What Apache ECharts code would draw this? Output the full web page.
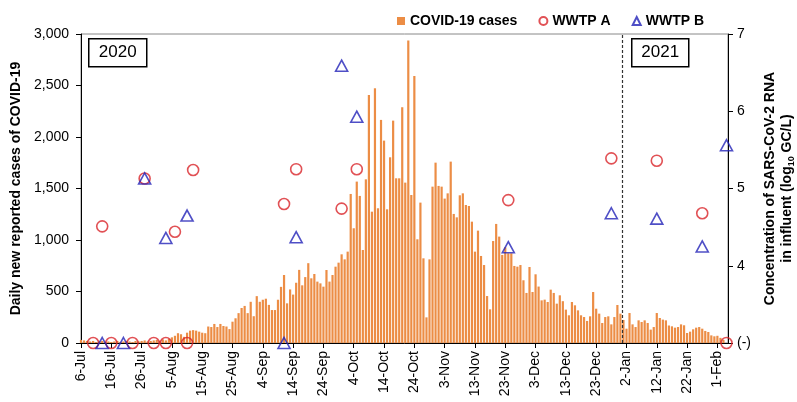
<!DOCTYPE html>
<html><head><meta charset="utf-8">
<script src="https://cdn.jsdelivr.net/npm/echarts@6/dist/echarts.min.js"></script>
<style>html,body{margin:0;padding:0;background:#fff}#c{width:797px;height:402px}</style>
</head><body><div id="c"></div>
<script>
// ---- data ----
const startDate = '2020-07-06';          // day 0 of the x axis
const dailyCases = [
  30, 25, 20, 15, 20, 10, 15, 20, 10, 15,
  10, 15, 20, 10, 15, 20, 15, 10, 20, 15,
  20, 25, 15, 20, 25, 30, 20, 35, 25, 40,
  55, 70, 95, 85, 60, 100, 120, 125, 120, 110,
  100, 95, 160, 155, 185, 155, 185, 165, 160, 135,
  207, 240, 290, 340, 360, 290, 400, 260, 455, 400,
  420, 430, 370, 320, 320, 420, 545, 660, 385, 520,
  470, 585, 710, 560, 640, 775, 628, 670, 596, 579,
  547, 709, 596, 660, 741, 780, 861, 812, 887, 1447,
  1114, 1567, 1428, 903, 1589, 2408, 1275, 2473, 1308, 2166,
  1965, 1298, 1803, 2159, 1599, 1599, 2289, 1557, 2936, 1437,
  2593, 1007, 1363, 822, 249, 812, 1518, 1751, 1525, 1518,
  1402, 1453, 1761, 1253, 1220, 1434, 1453, 1340, 1330, 1178,
  887, 1091, 845, 757, 456, 327, 990, 1156, 1033, 855,
  929, 871, 871, 748, 741, 757, 609, 486, 738, 495,
  667, 548, 414, 421, 398, 518, 486, 382, 463, 406,
  324, 269, 398, 366, 317, 269, 252, 214, 259, 495,
  333, 285, 194, 252, 259, 181, 252, 369, 285, 224,
  139, 291, 181, 155, 220, 204, 220, 194, 130, 155,
  291, 243, 227, 220, 170, 162, 149, 155, 181, 172,
  97, 110, 133, 149, 155, 139, 117, 107, 74, 65,
  70, 50, 30
];
const tickLabels = ['6-Jul','16-Jul','26-Jul','5-Aug','15-Aug','25-Aug','4-Sep','14-Sep','24-Sep','4-Oct','14-Oct','24-Oct','3-Nov','13-Nov','23-Nov','3-Dec','13-Dec','23-Dec','2-Jan','12-Jan','22-Jan','1-Feb'];
// null = not detected, plotted on the "(-)" level
const wwtpADates = ['2020-07-10','2020-07-13','2020-07-16','2020-07-23','2020-07-27','2020-07-30','2020-08-03','2020-08-06','2020-08-10','2020-08-12','2020-09-11','2020-09-15','2020-09-30','2020-10-05','2020-11-24','2020-12-28','2021-01-12','2021-01-27','2021-02-04'];
const wwtpAValues = [null, 4.51, null, null, 5.13, null, null, 4.44, null, 5.24, 4.80, 5.25, 4.74, 5.25, 4.85, 5.39, 5.36, 4.68, null];
const wwtpBDates = ['2020-07-13','2020-07-20','2020-07-27','2020-08-03','2020-08-10','2020-09-11','2020-09-15','2020-09-30','2020-10-05','2020-11-24','2020-12-28','2021-01-12','2021-01-27','2021-02-04'];
const wwtpBValues = [null, null, 5.13, 4.36, 4.65, null, 4.37, 6.59, 5.93, 4.24, 4.68, 4.61, 4.25, 5.56];
const yearLabels = ['2020', '2021'];
const yearBoundaryDate = '2021-01-01';
const ndLevel = 3;

// ---- helpers ----
const DAY = 86400000;
const t0 = Date.parse(startDate + 'T00:00:00Z');
const dayIndex = s => Math.round((Date.parse(s + 'T00:00:00Z') - t0) / DAY);
const FONT = '"Liberation Sans", Arial, Helvetica, sans-serif';

const barData = dailyCases.map((v, i) => [i, v]);
const aData = wwtpADates.map((d, i) => [dayIndex(d), wwtpAValues[i] == null ? ndLevel : wwtpAValues[i]]);
const bData = wwtpBDates.map((d, i) => [dayIndex(d), wwtpBValues[i] == null ? ndLevel : wwtpBValues[i]]);
const boundary = dayIndex(yearBoundaryDate) - 0.5;

const chart = echarts.init(document.getElementById('c'), null, {renderer: 'canvas'});
chart.setOption({
  animation: false,
  backgroundColor: '#fff',
  textStyle: {fontFamily: FONT},
  grid: {left: 81, right: 69, top: 34, bottom: 59, show: true, borderColor: '#888', borderWidth: 1,
         containLabel: false, outerBoundsMode: 'none'},
  legend: {
    left: 392, top: 9, itemWidth: 8, itemHeight: 8, itemGap: 21,
    textStyle: {fontFamily: FONT, fontSize: 14, fontWeight: 'bold', color: '#000'},
    data: [{name: 'COVID-19 cases', icon: 'rect'}, {name: 'WWTP A'}, {name: 'WWTP B'}]
  },
  xAxis: {
    type: 'value', min: 0, max: 213.5, interval: 10,
    axisLine: {show: true, lineStyle: {color: '#000', width: 1}},
    axisTick: {show: true, length: 5, lineStyle: {color: '#000'}},
    splitLine: {show: false},
    axisLabel: {
      rotate: 90, margin: 8, fontSize: 14, color: '#000', fontFamily: FONT,
      showMaxLabel: false,
      formatter: v => (v % 10 === 0 && tickLabels[v / 10]) ? tickLabels[v / 10] : ''
    }
  },
  yAxis: [
    {
      type: 'value', min: 0, max: 3000, interval: 500, position: 'left',
      name: 'Daily new reported cases of COVID-19', nameLocation: 'middle', nameGap: 58, nameRotate: 90,
      nameTextStyle: {fontSize: 14, fontWeight: 'bold', color: '#000', fontFamily: FONT},
      axisLine: {show: true, lineStyle: {color: '#000'}},
      axisTick: {show: true, length: 5, lineStyle: {color: '#000'}},
      splitLine: {show: false},
      axisLabel: {fontSize: 14, color: '#000', margin: 12, fontFamily: FONT,
        formatter: v => String(v).replace(/\B(?=(\d{3})+(?!\d))/g, ',')}
    },
    {
      type: 'value', min: 3, max: 7, interval: 1, position: 'right',
      name: '{a|Concentration of SARS-CoV-2 RNA}\n{a|in influent (log}{s|10}{a| GC/L)}',
      nameLocation: 'middle', nameGap: 31, nameRotate: 90,
      nameTextStyle: {
        fontFamily: FONT, color: '#000', lineHeight: 17,
        rich: {
          a: {fontSize: 14, fontWeight: 'bold', color: '#000', fontFamily: FONT, lineHeight: 17},
          s: {fontSize: 9, fontWeight: 'bold', color: '#000', fontFamily: FONT, verticalAlign: 'bottom', padding: [5, 0, 0, 0], lineHeight: 17}
        }
      },
      axisLine: {show: true, lineStyle: {color: '#000'}},
      axisTick: {show: true, length: 5, lineStyle: {color: '#000'}},
      splitLine: {show: false},
      axisLabel: {fontSize: 14, color: '#000', margin: 9, fontFamily: FONT,
        formatter: v => v === ndLevel ? '(-)' : String(v)}
    }
  ],
  series: [
    {
      name: 'COVID-19 cases', type: 'bar', data: barData, yAxisIndex: 0,
      barWidth: 2.2, itemStyle: {color: '#EC8D45'}, z: 2,
      markLine: {
        silent: true, symbol: ['none', 'none'], label: {show: false},
        lineStyle: {color: '#333', type: [3, 2], width: 1.2},
        data: [{xAxis: boundary}]
      }
    },
    {
      name: 'WWTP A', type: 'scatter', data: aData, yAxisIndex: 1, symbol: 'circle', symbolSize: 11,
      itemStyle: {color: 'rgba(255,255,255,0)', borderColor: '#D9262B', borderWidth: 1.6}, z: 4, clip: false
    },
    {
      name: 'WWTP B', type: 'scatter', data: bData, yAxisIndex: 1, symbol: 'triangle', symbolSize: [12, 11],
      itemStyle: {color: 'rgba(255,255,255,0)', borderColor: '#2323B8', borderWidth: 1.6}, z: 5, clip: false
    }
  ],
  graphic: [
    {type: 'group', left: 88, top: 38, children: [
      {type: 'rect', shape: {x: 0, y: 0, width: 58, height: 28}, style: {fill: '#fff', stroke: '#000', lineWidth: 1.5}},
      {type: 'text', x: 29, y: 14, style: {text: yearLabels[0], fontSize: 17, fontFamily: FONT, fill: '#000', align: 'center', verticalAlign: 'middle'}}
    ]},
    {type: 'group', left: 631, top: 38, children: [
      {type: 'rect', shape: {x: 0, y: 0, width: 57, height: 28}, style: {fill: '#fff', stroke: '#000', lineWidth: 1.5}},
      {type: 'text', x: 28.5, y: 14, style: {text: yearLabels[1], fontSize: 17, fontFamily: FONT, fill: '#000', align: 'center', verticalAlign: 'middle'}}
    ]}
  ]
});
</script>
</body></html>
